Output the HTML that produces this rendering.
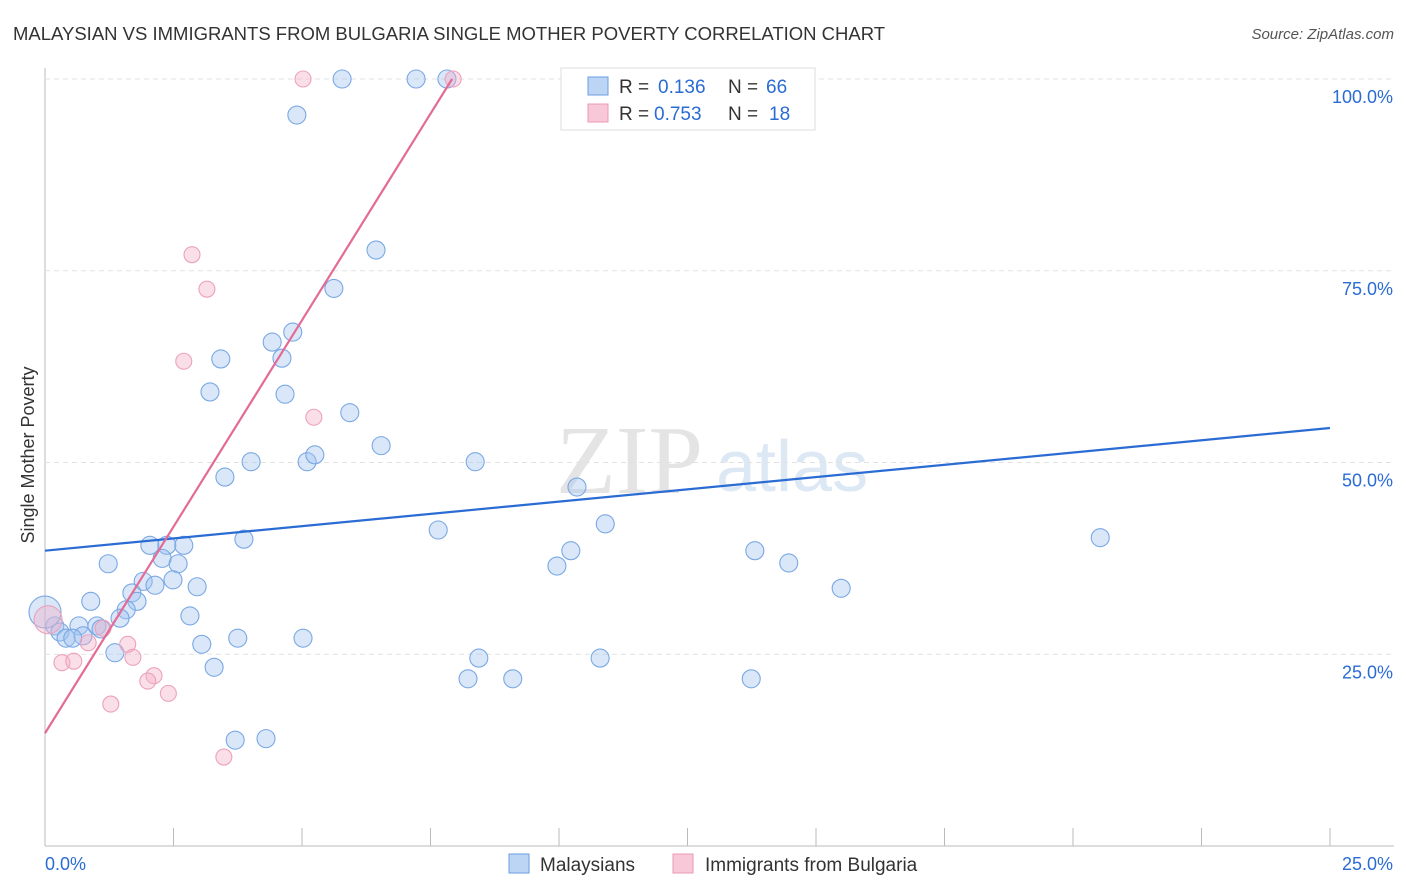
<!DOCTYPE html>
<html><head><meta charset="utf-8"><style>
body{margin:0;background:#fff;font-family:"Liberation Sans",sans-serif}
svg{display:block}
</style></head><body>
<svg id="c" width="1406" height="892">
<text x="13" y="40" font-size="18.5" fill="#333">MALAYSIAN VS IMMIGRANTS FROM BULGARIA SINGLE MOTHER POVERTY CORRELATION CHART</text>
<text x="1394" y="39" font-size="15" fill="#555" text-anchor="end" font-style="italic">Source: ZipAtlas.com</text>
<text x="556" y="493" font-size="98" fill="#e4e4e4" font-family="Liberation Serif">ZIP</text>
<text x="716" y="491" font-size="72" fill="#dde8f5">atlas</text>
<text x="34" y="455" font-size="18" fill="#333" text-anchor="middle" transform="rotate(-90 34 455)">Single Mother Poverty</text>
<g id="grid"></g><g id="pts"></g><g id="lines"></g>
<g>
<rect x="561" y="68" width="254" height="62" fill="#fff" stroke="#ddd"/>
<rect x="588" y="77" width="20" height="18" fill="#bcd5f5" stroke="#6a9ee0"/>
<rect x="588" y="104" width="20" height="18" fill="#f8c8d8" stroke="#e89ab4"/>
<text x="619" y="93" font-size="19" fill="#333">R = <tspan x="658" fill="#2a6cd4">0.136</tspan><tspan x="728">N = </tspan><tspan x="766" fill="#2a6cd4">66</tspan></text>
<text x="619" y="120" font-size="19" fill="#333">R = <tspan x="654" fill="#2a6cd4">0.753</tspan><tspan x="728">N = </tspan><tspan x="769" fill="#2a6cd4">18</tspan></text>
</g>
<g>
<rect x="509" y="854" width="20" height="19" fill="#bcd5f5" stroke="#6a9ee0"/>
<text x="540" y="871" font-size="19" fill="#333">Malaysians</text>
<rect x="673" y="854" width="20" height="19" fill="#f8c8d8" stroke="#e89ab4"/>
<text x="705" y="871" font-size="19" fill="#333">Immigrants from Bulgaria</text>
</g>
<text x="45" y="870" font-size="18" fill="#2a6cd4">0.0%</text>
<text x="1393" y="870" font-size="18" fill="#2a6cd4" text-anchor="end">25.0%</text>
</svg>
<script>
const blueX=[5.78,7.22,7.82,4.9,6.44,5.62,4.82,4.42,3.42,4.61,3.21,4.67,5.93,6.54,4.01,5.10,5.25,8.37,3.50,10.35,10.9,7.65,20.53,3.87,2.04,2.37,2.7,10.23,13.81,2.28,2.59,1.23,9.96,14.47,1.91,2.49,2.14,2.96,15.49,1.69,0.89,1.79,1.58,1.46,2.82,0.66,1.01,1.09,0.19,0.29,0.41,0.74,0.54,3.75,5.02,3.05,1.36,8.44,10.8,3.29,8.23,9.1,13.74,3.7,4.3,0];
const blueY=[100,100,100,95.3,77.7,72.7,67.0,65.7,63.5,63.6,59.2,58.9,56.5,52.2,50.1,50.1,51.0,50.1,48.1,46.8,42.0,41.2,40.2,40.0,39.2,39.2,39.2,38.5,38.5,37.5,36.8,36.8,36.5,36.9,34.5,34.7,34.0,33.8,33.6,33.0,31.9,31.9,30.8,29.7,30.0,28.7,28.7,28.3,28.7,27.9,27.1,27.4,27.1,27.1,27.1,26.3,25.2,24.5,24.5,23.3,21.8,21.8,21.8,13.8,14.0,30.5];
const pinkX=[5.02,7.94,2.86,3.15,2.7,5.23,0.06,1.13,0.84,1.61,1.71,0.33,0.56,2.12,2.0,2.4,1.28,3.48];
const pinkY=[100,100,77.1,72.6,63.2,55.9,29.5,28.4,26.5,26.3,24.6,23.9,24.1,22.2,21.5,19.9,18.5,11.6];
const blueTrend=[38.5,54.5];
const pinkTrend=[14.7,100];
const pinkTrendEndX=7.92;
const yTicks=[25,50,75,100];
const X=v=>45+v*51.4, Y=v=>846-v*7.67;
const NS="http://www.w3.org/2000/svg";
function mk(t,a,p){const e=document.createElementNS(NS,t);for(const k in a)e.setAttribute(k,a[k]);p.appendChild(e);return e;}
const g=document.getElementById('grid');
mk('line',{x1:45,y1:68,x2:45,y2:846,stroke:'#bbb'},g);
mk('line',{x1:45,y1:846,x2:1394,y2:846,stroke:'#bbb'},g);
for(let i=0;i<=10;i++){const l=mk('line',{x1:X(i*2.5),y1:828,x2:X(i*2.5),y2:846,stroke:'#bbb'},g);

}
yTicks.forEach(t=>{const l=mk('line',{x1:45,y1:Y(t),x2:1394,y2:Y(t),stroke:'#e2e2e2','stroke-dasharray':'5,4'},g);


const tx=mk('text',{x:1393,y:Y(t)+24,'font-size':18,fill:'#2a6cd4','text-anchor':'end'},g);tx.textContent=t.toFixed(1)+'%';

});
const p=document.getElementById('pts');
blueX.forEach((v,i)=>{const c=mk('circle',{cx:X(v),cy:Y(blueY[i]),r:i==blueX.length-1?16:9,fill:'rgba(160,196,240,0.4)',stroke:'#7aa8e4','stroke-width':1.1},p);

});
pinkX.forEach((v,i)=>{const c=mk('circle',{cx:X(v),cy:Y(pinkY[i]),r:i==6?14:8,fill:'rgba(245,175,198,0.4)',stroke:'#eca2bb','stroke-width':1.1},p);

});
const L=document.getElementById('lines');
const b=mk('line',{x1:X(0),y1:Y(blueTrend[0]),x2:X(25),y2:Y(blueTrend[1]),stroke:'#2a6cd4','stroke-width':2.2},L);


const pk=mk('line',{x1:X(0),y1:Y(pinkTrend[0]),x2:X(pinkTrendEndX),y2:Y(pinkTrend[1]),stroke:'#e36b96','stroke-width':2.2},L);


</script>
</body></html>
